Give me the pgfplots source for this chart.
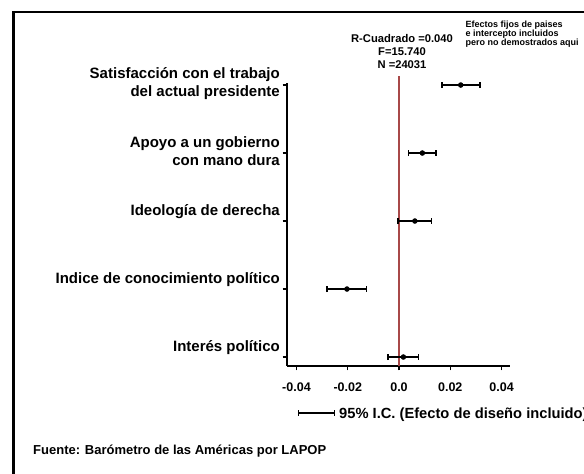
\documentclass[border=0pt]{standalone}
\usepackage{fontspec}
\setmainfont{Liberation Sans}
\usepackage{pgfplots}
\pgfplotsset{compat=1.18}
\definecolor{refline}{RGB}{168,72,72}
\tikzset{catlab/.style={anchor=east, align=right, inner sep=0pt, xshift=-7pt,
    font=\fontsize{15}{18}\selectfont\bfseries}}

\begin{document}
\begin{tikzpicture}[x=1pt,y=1pt]
\useasboundingbox (0,0) rectangle (584,474);
\clip (0,0) rectangle (584,474);
\fill[white] (0,0) rectangle (584,474);
% frame (only left and top edges are visible)
\draw[line width=2.3pt] (13.5,-5) -- (13.5,462) -- (600,462);

\begin{axis}[
  at={(287pt,108pt)}, anchor=south west,
  scale only axis, width=223pt, height=283pt,
  xmin=-0.0437, xmax=0.0433,
  ymin=0.868, ymax=5.03,
  axis lines=left,
  axis line style={-, line width=1.1pt, black},
  scaled x ticks=false,
  xtick={-0.04,-0.02,0,0.02,0.04},
  xticklabels={-0.04,-0.02,0.0,0.02,0.04},
  ytick={1,2,3,4,5},
  yticklabels={},
  tick align=outside,
  major tick length=4.5pt,
  tick style={black, line width=1.1pt},
  xticklabel style={font=\fontsize{12.5}{14}\selectfont\bfseries, yshift=-8.5pt},
  clip=false,
]
% reference line at zero
\addplot[refline, line width=1.1pt] coordinates {(0,0.868) (0,5.13)};

% coefficients with 95% CI
\addplot[only marks, mark=*, mark size=2.5pt, black,
  error bars/.cd, x dir=both, x explicit,
  error mark=|,
  error bar style={line width=1.5pt, black},
  error mark options={black, mark size=3pt, line width=1.5pt}]
coordinates {
  (0.0017,1)  +- (0.0060,0)
  (-0.0203,2) +- (0.0077,0)
  (0.0062,3)  +- (0.0065,0)
  (0.0091,4)  +- (0.0054,0)
  (0.0241,5)  +- (0.0074,0)
};

\node[catlab, yshift=1.6pt] at (axis cs:-0.0437,5) {Satisfacción con el trabajo\\del actual presidente};
\node[catlab, yshift=1.6pt] at (axis cs:-0.0437,4) {Apoyo a un gobierno\\con mano dura};
\node[catlab, yshift=9.5pt] at (axis cs:-0.0437,3) {Ideología de derecha};
\node[catlab, yshift=9.5pt] at (axis cs:-0.0437,2) {Indice de conocimiento político};
\node[catlab, yshift=9.5pt] at (axis cs:-0.0437,1) {Interés político};
\end{axis}

% fit statistics
\node[align=center, inner sep=0pt, font=\fontsize{11.2}{12.7}\selectfont\bfseries]
  at (402,422.5) {R-Cuadrado =0.040\\F=15.740\\N =24031};
\node[align=left, anchor=west, inner sep=0pt, font=\fontsize{9}{9}\selectfont\bfseries]
  at (465.5,440) {Efectos fijos de paises\\e intercepto incluidos\\pero no demostrados aqui};

% legend key
\draw[line width=1.3pt] (298.5,61) -- (334.5,61);
\draw[line width=1.3pt] (298.5,58) -- (298.5,64);
\draw[line width=1.3pt] (334.5,58) -- (334.5,64);
\node[anchor=base west, inner sep=0pt, font=\fontsize{14.7}{17}\selectfont\bfseries]
  at (339,55.7) {95\% I.C. (Efecto de diseño incluido)};

% source
\node[anchor=base west, inner sep=0pt, font=\fontsize{13}{15}\selectfont\bfseries]
  at (33,19.3) {Fuente: Barómetro de las Américas por LAPOP};
\end{tikzpicture}
\end{document}
